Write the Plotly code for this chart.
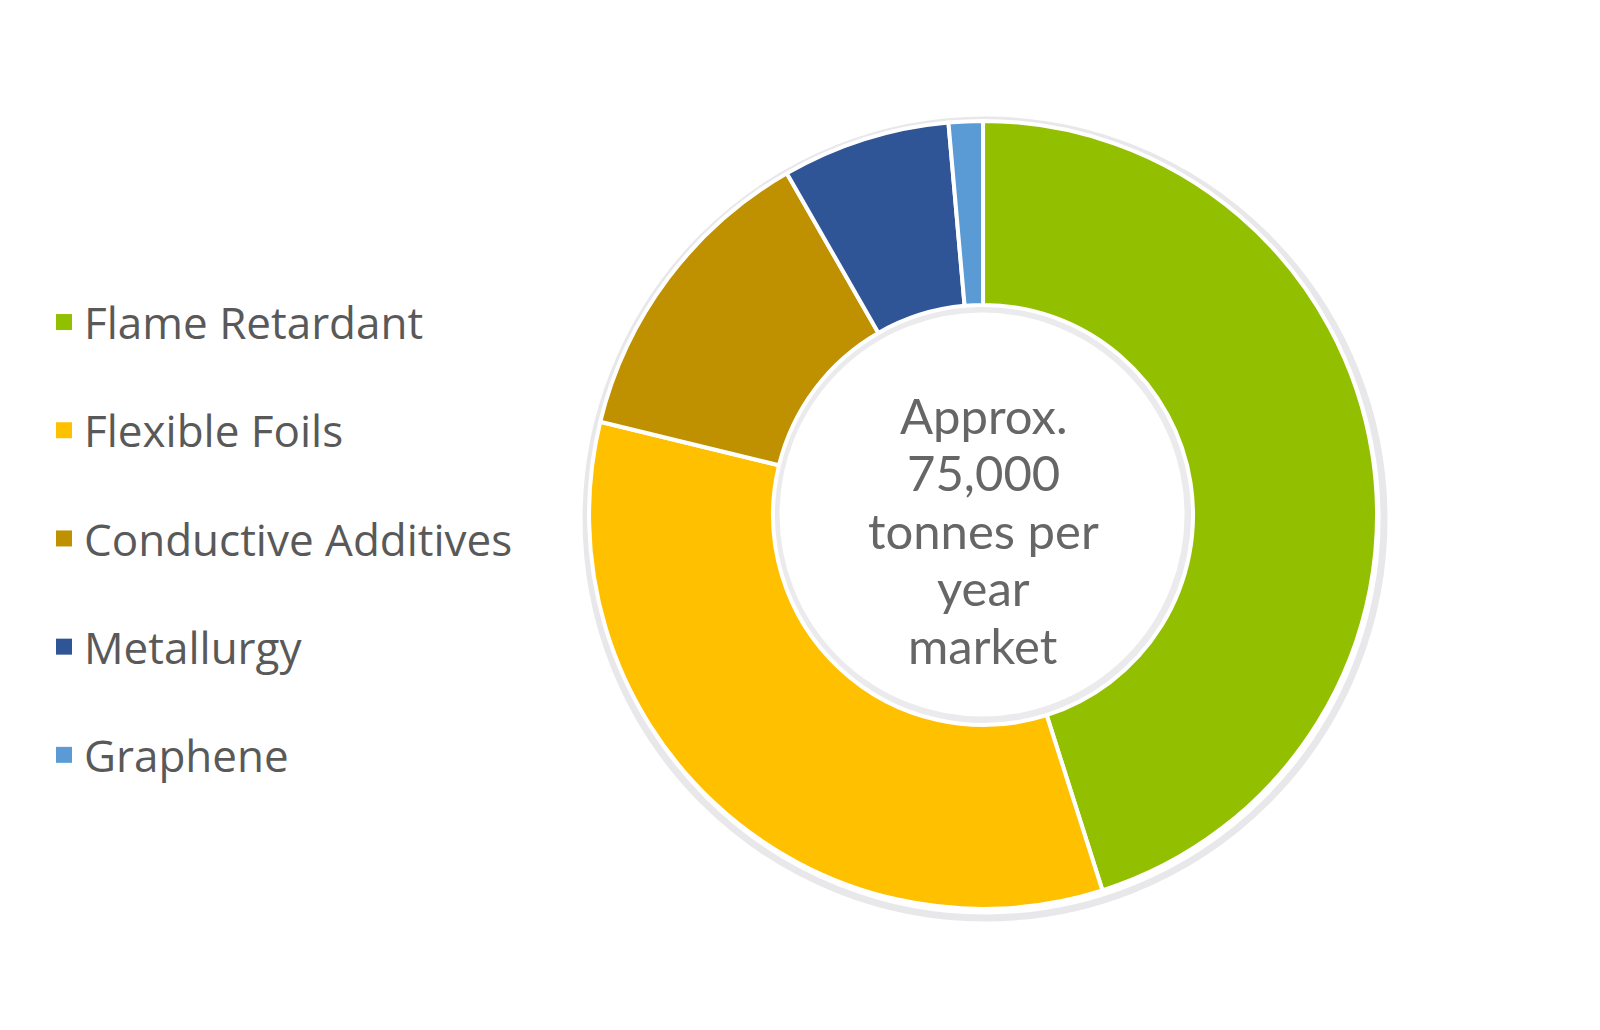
import plotly.graph_objects as go

# market split, share of approx. 75,000 t/yr (read off the donut)
labels = ['Flame Retardant', 'Flexible Foils', 'Conductive Additives', 'Metallurgy', 'Graphene']
shares = [45.1, 33.7, 12.9, 6.9, 1.4]
colors = ['#92C000', '#FFC000', '#BF9000', '#2F5597', '#5B9BD5']
center_text = ['Approx.', '75,000', 'tonnes per', 'year', 'market']

grey = '#595959'
cx, cy = 0.6094, 0.5078  # donut centre in paper coords
rx, ry = 0.24625, 0.3825  # outer radius in paper units

fig = go.Figure()
fig.add_trace(go.Pie(labels=labels, values=shares, sort=False, direction='clockwise',
                     rotation=0, hole=0.533, textinfo='none', hoverinfo='label+percent',
                     marker=dict(colors=colors, line=dict(color='white', width=4)),
                     domain=dict(x=[cx - rx, cx + rx], y=[cy - ry, cy + ry]),
                     showlegend=False))

# legend entries (pie legend can't space items out, so use one dummy trace per group)
for lab, col in zip(labels, colors):
    fig.add_trace(go.Scatter(x=[None], y=[None], mode='markers', name=lab, legendgroup=lab,
                             marker=dict(symbol='square', size=16, color=col)))

# soft shadow rings round the donut and inside the hole
fig.add_shape(type='circle', xref='paper', yref='paper', xsizemode='pixel', ysizemode='pixel',
              xanchor=cx, yanchor=cy, x0=-397, x1=401, y0=-403, y1=395,
              line=dict(color='rgba(110,110,130,0.16)', width=7), layer='below')
fig.add_shape(type='circle', xref='paper', yref='paper', xsizemode='pixel', ysizemode='pixel',
              xanchor=cx, yanchor=cy, x0=-207, x1=205, y0=-205, y1=206,
              line=dict(color='rgba(110,110,130,0.14)', width=7), layer='below')

# centre label, one line at a time so the line spacing stays tight
for i, line in enumerate(center_text):
    fig.add_annotation(text=line, x=cx, y=cy, xref='paper', yref='paper',
                       showarrow=False, yshift=-15 - (i - 2) * 57.5,
                       font=dict(family='Lato', size=49, color='#666666'))

fig.update_layout(
    width=1600, height=1030,
    margin=dict(l=0, r=0, t=0, b=0),
    paper_bgcolor='white', plot_bgcolor='white',
    xaxis=dict(visible=False), yaxis=dict(visible=False),
    font=dict(family='Lato', color=grey),
    legend=dict(x=0.0225, xanchor='left', y=0.4850, yanchor='middle',
                font=dict(family='Open Sans', size=44, color=grey),
                tracegroupgap=48, bgcolor='rgba(0,0,0,0)'),
)

fig.write_html('out.html')
